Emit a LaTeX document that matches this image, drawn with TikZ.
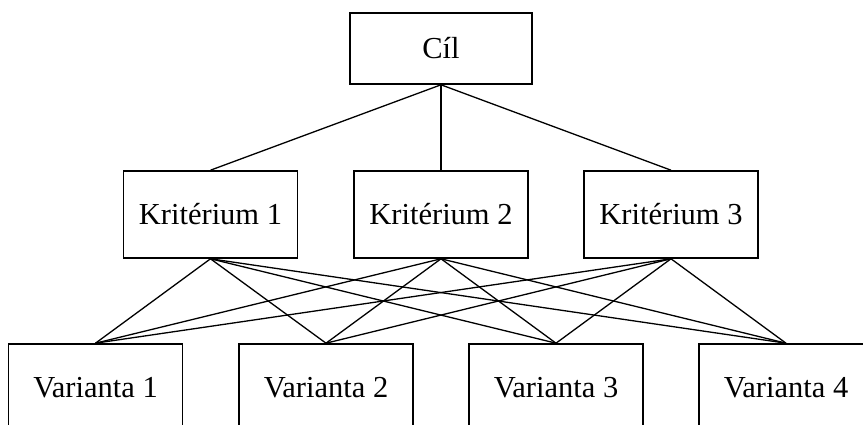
\documentclass[tikz,border=0pt]{standalone}
\usepackage{fontspec}
\setmainfont{Liberation Serif}
\begin{document}
\begin{tikzpicture}[x=1pt,y=1pt,
  box/.style={draw, line width=1.6pt, minimum width=174pt, minimum height=87pt, inner sep=0pt, font=\fontsize{30.5}{36}\selectfont},
  link/.style={line width=1.3pt}]
\useasboundingbox (0,0) rectangle (863,425);
\clip (0,0) rectangle (863,425);
\node[box, minimum width=182pt, minimum height=71pt] (goal) at (441,376.5) {Cíl};
\node[box] (k1) at (210.5,210.5) {Kritérium 1};
\node[box] (k2) at (441,210.5) {Kritérium 2};
\node[box] (k3) at (671,210.5) {Kritérium 3};
\node[box] (v1) at (95.5,37.5) {Varianta 1};
\node[box] (v2) at (326,37.5) {Varianta 2};
\node[box] (v3) at (556,37.5) {Varianta 3};
\node[box] (v4) at (786,37.5) {Varianta 4};
\foreach \k in {k1,k2,k3} {
  \draw[link] (goal.south) -- (\k.north);
  \foreach \v in {v1,v2,v3,v4} {
    \draw[link] (\k.south) -- (\v.north);
  }
}
\end{tikzpicture}
\end{document}
